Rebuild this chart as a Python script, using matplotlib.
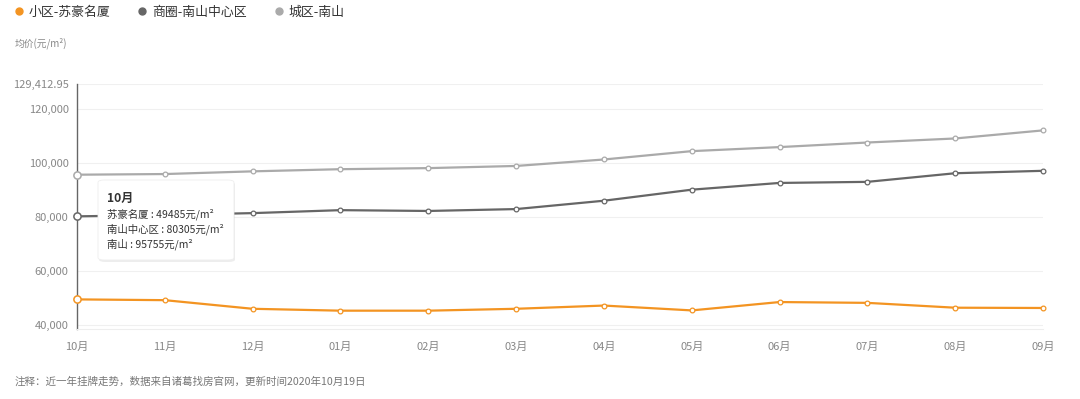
import matplotlib
matplotlib.use("Agg")
import matplotlib.pyplot as plt
from matplotlib.lines import Line2D
from matplotlib.patches import FancyBboxPatch
import matplotlib.ticker as mticker

plt.rcParams['font.family'] = ['Noto Sans CJK SC', 'DejaVu Sans']

months = ["10月", "11月", "12月", "01月", "02月", "03月", "04月", "05月", "06月", "07月", "08月", "09月"]
suhao = [49485, 49200, 46000, 45300, 45300, 46000, 47200, 45400, 48500, 48200, 46400, 46300]
center = [80305, 80800, 81500, 82600, 82300, 83000, 86100, 90200, 92700, 93100, 96300, 97200]
nanshan = [95755, 96000, 97000, 97800, 98200, 99000, 101400, 104500, 106000, 107700, 109200, 112200]
series_names = ["小区-苏豪名厦", "商圈-南山中心区", "城区-南山"]
colors = ["#F39422", "#666666", "#AAAAAA"]
yticks = [40000, 60000, 80000, 100000, 120000]
ymax = 129412.95
ymin = 38500

fig = plt.figure(figsize=(10.8, 3.99), dpi=100)
ax = fig.add_axes([77/1080, (399-329)/399, (1043-77)/1080, (329-84)/399])

x = list(range(len(months)))
for vals, c in zip([suhao, center, nanshan], colors):
    ax.plot(x, vals, color=c, lw=1.6, marker='o', markersize=3.4, markerfacecolor='white',
            markeredgecolor=c, markeredgewidth=0.9, zorder=3, clip_on=False)
    ax.plot([x[0]], [vals[0]], marker='o', markersize=5.2, markerfacecolor='white',
            markeredgecolor=c, markeredgewidth=1.1, zorder=4, clip_on=False)

ax.set_xlim(0, len(months) - 1)
ax.set_ylim(ymin, ymax)
ax.set_xticks(x)
ax.set_xticklabels(months)
ax.set_yticks(yticks + [ymax])
ax.yaxis.set_major_formatter(mticker.FuncFormatter(
    lambda v, p: f"{v:,.2f}" if abs(v - ymax) < 1 else f"{v:,.0f}"))
ax.tick_params(axis='both', length=0, labelsize=8, labelcolor='#888888')
ax.tick_params(axis='x', pad=9)
ax.tick_params(axis='y', pad=6)
ax.grid(axis='y', color='#F0F0F0', lw=0.8)
ax.set_axisbelow(True)
for s in ['top', 'right']:
    ax.spines[s].set_visible(False)
ax.spines['left'].set_color('#666666')
ax.spines['left'].set_linewidth(1.0)
ax.spines['bottom'].set_color('#EEEEEE')

# legend
handles = [Line2D([], [], marker='o', ls='none', color=c, markersize=5) for c in colors]
fig.legend(handles, series_names, loc='upper left', bbox_to_anchor=(0.003, 1.015), ncol=3,
           frameon=False, handlelength=0.6, handletextpad=0.45, columnspacing=2.2,
           prop={'size': 9.3}, labelcolor='#333333')

fig.text(15/1080, 1 - 43/399, "均价(元/m²)", fontsize=7, color='#888888', va='center')
fig.text(15/1080, 1 - 382/399, "注释：近一年挂牌走势，数据来自诸葛找房官网，更新时间2020年10月19日",
         fontsize=7.6, color='#777777', va='center')

# tooltip
box = FancyBboxPatch((98/1080, 1 - 260/399), (234-98)/1080, (260-180)/399,
                     boxstyle="round,pad=0,rounding_size=0.006", transform=fig.transFigure,
                     facecolor='white', edgecolor='#EEEEEE', lw=0.6, zorder=10)
shadow = FancyBboxPatch((99/1080, 1 - 262/399), (234-98)/1080, (260-180)/399,
                        boxstyle="round,pad=0,rounding_size=0.006", transform=fig.transFigure,
                        facecolor='#00000012', edgecolor='none', zorder=9)
fig.add_artist(shadow)
fig.add_artist(box)
fig.text(107/1080, 1 - 198/399, months[0], fontsize=8.7, fontweight='bold', color='#333333',
         va='center', zorder=11)
tip_lines = [f"苏豪名厦 : {suhao[0]}元/m²", f"南山中心区 : {center[0]}元/m²", f"南山 : {nanshan[0]}元/m²"]
for i, t in enumerate(tip_lines):
    fig.text(107/1080, 1 - (214 + 15*i)/399, t, fontsize=7.5, color='#333333', va='center', zorder=11)

fig.savefig("out.png", dpi=100)
